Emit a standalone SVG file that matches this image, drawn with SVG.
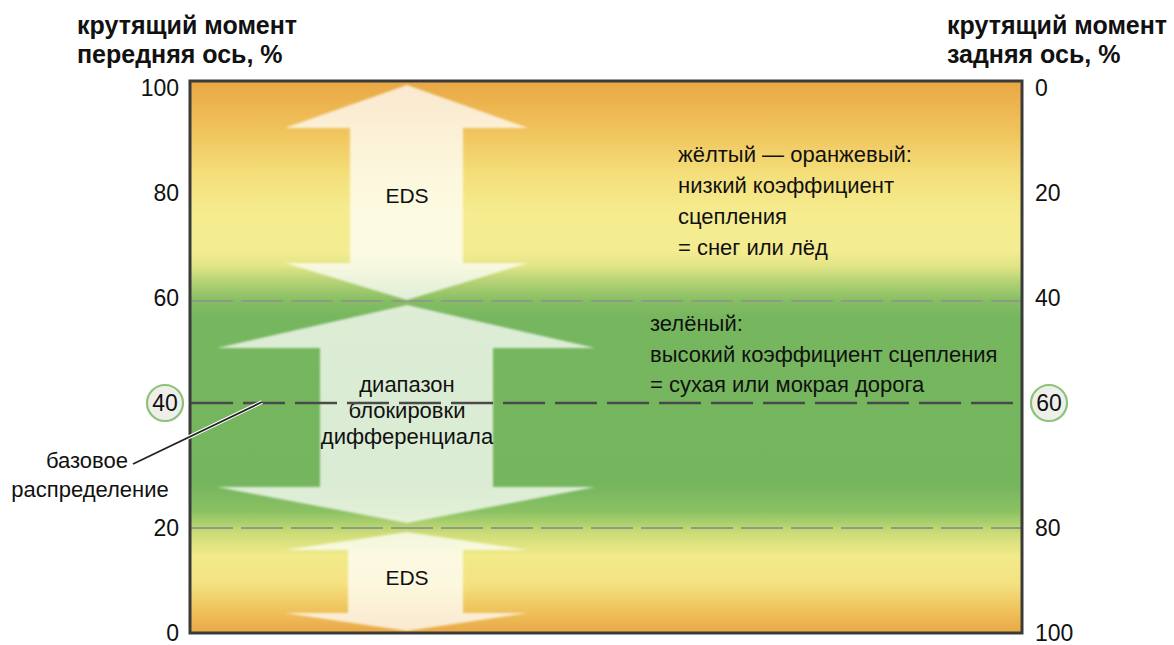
<svg xmlns="http://www.w3.org/2000/svg" width="1174" height="645" viewBox="0 0 1174 645">
<defs>
<linearGradient id="bg" x1="0" y1="81" x2="0" y2="633" gradientUnits="userSpaceOnUse">
<stop offset="0" stop-color="#E9A745"/>
<stop offset="0.09" stop-color="#F0C35C"/>
<stop offset="0.17" stop-color="#F4DF7A"/>
<stop offset="0.24" stop-color="#F5EC8F"/>
<stop offset="0.31" stop-color="#F3EC90"/>
<stop offset="0.335" stop-color="#E2E586"/>
<stop offset="0.36" stop-color="#B9D477"/>
<stop offset="0.40" stop-color="#84BD63"/>
<stop offset="0.43" stop-color="#76B65E"/>
<stop offset="0.73" stop-color="#74B55E"/>
<stop offset="0.78" stop-color="#8BC163"/>
<stop offset="0.82" stop-color="#CCDD78"/>
<stop offset="0.86" stop-color="#F2EA8A"/>
<stop offset="0.91" stop-color="#F4E282"/>
<stop offset="0.95" stop-color="#F0C862"/>
<stop offset="1" stop-color="#E9A745"/>
</linearGradient>
<filter id="soft" x="-5%" y="-5%" width="110%" height="110%">
<feGaussianBlur stdDeviation="1.2"/>
</filter>
</defs>
<style>
.hdr{font-family:"Liberation Sans","DejaVu Sans",sans-serif;font-weight:bold;font-size:25px;fill:#111}
.ax{font-family:"Liberation Sans","DejaVu Sans",sans-serif;font-size:23px;fill:#111}
.lg{font-family:"Liberation Sans","DejaVu Sans",sans-serif;font-size:22px;fill:#111}
.eds{font-family:"Liberation Sans","DejaVu Sans",sans-serif;font-size:21px;fill:#111;text-anchor:middle}
.arrow{fill:#FFFFFF;fill-opacity:0.74}
.grid{stroke:#8E9C82;stroke-width:2;stroke-dasharray:42 8;fill:none}
.base{stroke:#4A4A4A;stroke-width:2.5;stroke-dasharray:42 10;fill:none}
.circ{fill:#EEEFEA;stroke:#8CC27A;stroke-width:2.2}
</style>

<g id="chart">
<rect x="190" y="81" width="832" height="552" fill="url(#bg)"/>
<line class="grid" x1="191" y1="301" x2="1021" y2="301"/>
<line class="grid" x1="191" y1="528" x2="1021" y2="528"/>
</g>

<g id="arrow-eds-top">
<polygon class="arrow" filter="url(#soft)" points="407,85 528,128 463,128 463,263 528,263 407,300 285,263 350,263 350,128 285,128"/>
<text class="eds" x="407" y="203">EDS</text>
</g>

<g id="arrow-lock-range">
<polygon class="arrow" filter="url(#soft)" points="407,305 595,348 493,348 493,487 595,487 407,523 217,487 320,487 320,348 217,348"/>
<text class="lg" x="407" y="392" text-anchor="middle">диапазон</text>
<text class="lg" x="407" y="418" text-anchor="middle">блокировки</text>
<text class="lg" x="407" y="444" text-anchor="middle">дифференциала</text>
</g>

<g id="arrow-eds-bottom">
<polygon class="arrow" filter="url(#soft)" points="407,532 527,550 463,550 463,613 527,613 407,631 285,613 348,613 348,550 285,550"/>
<text class="eds" x="407" y="585">EDS</text>
</g>

<g id="baseline">
<line class="base" x1="191" y1="403" x2="1021" y2="403"/>
</g>

<g id="frame">
<rect x="190" y="81" width="832" height="552" fill="none" stroke="#3A3A3A" stroke-width="3"/>
</g>

<g id="legend-yellow">
<text class="lg" x="678" y="162">жёлтый — оранжевый:</text>
<text class="lg" x="678" y="193">низкий коэффициент</text>
<text class="lg" x="678" y="224">сцепления</text>
<text class="lg" x="678" y="255">= снег или лёд</text>
</g>

<g id="legend-green">
<text class="lg" x="650" y="331">зелёный:</text>
<text class="lg" x="650" y="362">высокий коэффициент сцепления</text>
<text class="lg" x="650" y="392">= сухая или мокрая дорога</text>
</g>

<g id="header-left">
<text class="hdr" x="77" y="34">крутящий момент</text>
<text class="hdr" x="77" y="63">передняя ось, %</text>
</g>

<g id="header-right">
<text class="hdr" x="947" y="34">крутящий момент</text>
<text class="hdr" x="947" y="63">задняя ось, %</text>
</g>

<g id="axis-left" text-anchor="end">
<text class="ax" x="179" y="96">100</text>
<text class="ax" x="179" y="201">80</text>
<text class="ax" x="179" y="306">60</text>
<text class="ax" x="179" y="536">20</text>
<text class="ax" x="179" y="641">0</text>
</g>

<g id="axis-right">
<text class="ax" x="1035" y="96">0</text>
<text class="ax" x="1035" y="201">20</text>
<text class="ax" x="1035" y="306">40</text>
<text class="ax" x="1035" y="536">80</text>
<text class="ax" x="1035" y="641">100</text>
</g>

<g id="marker-40">
<circle class="circ" cx="165" cy="403" r="18"/>
<text class="ax" x="165" y="411" text-anchor="middle">40</text>
</g>

<g id="marker-60">
<circle class="circ" cx="1049" cy="403" r="18"/>
<text class="ax" x="1049" y="411" text-anchor="middle">60</text>
</g>

<g id="connectors">
<line x1="133" y1="464" x2="262" y2="402" stroke="#FFFFFF" stroke-width="4"/>
<line x1="133" y1="464" x2="262" y2="402" stroke="#222" stroke-width="1.8"/>
</g>

<g id="label-base">
<text class="lg" x="128" y="468" text-anchor="end">базовое</text>
<text class="lg" x="90" y="497" text-anchor="middle">распределение</text>
</g>
</svg>
